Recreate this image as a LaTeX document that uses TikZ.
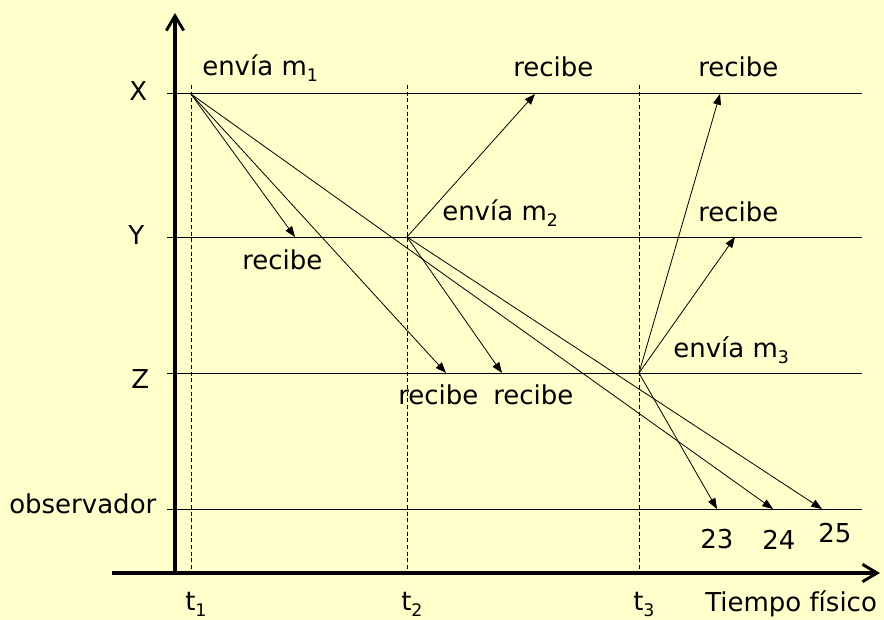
\documentclass[tikz,border=0pt]{standalone}
\usepackage{fontspec}
\setmainfont{DejaVu Sans}
\usetikzlibrary{arrows.meta}
\definecolor{fondo}{HTML}{FFFFCC}
\newcommand{\idx}[1]{\raisebox{-4.5pt}{\fontsize{13}{13}\selectfont #1}}

\begin{document}
\begin{tikzpicture}[x=0.75pt,y=-0.75pt,
  every node/.style={font=\fontsize{19.5}{23}\selectfont,inner sep=0pt,anchor=base west},
  eje/.style={line width=2.4pt,-{Straight Barb[length=11pt,width=13pt,line width=2.2pt]}},
  proceso/.style={line width=0.75pt},
  instante/.style={line width=0.7pt,dash pattern=on 3pt off 2pt},
  msg/.style={line width=0.6pt,-{Triangle[length=8pt,width=6pt]}}]
  % background and page size
  \fill[fondo] (0,0) rectangle (884,620);
  \useasboundingbox (0,0) rectangle (884,620);
  % process lines and their names
  \foreach \y in {94,237,373,509}
    \draw[proceso] (167,\y) -- (862,\y);
  \node (pX) at (129,101) {X};
  \node (pY) at (128,244) {Y};
  \node (pZ) at (131,388) {Z};
  \node (pO) at (9,513) {observador};
  % instants t1, t2, t3
  \foreach \x/\i in {191/1,407/2,639/3} {
    \draw[instante] (\x,85) -- (\x,573);
    \node (t\i) at (\x-6,610) {t\idx{\i}};
  }
  % axes
  \draw[eje] (175,575) -- (175,13);
  \draw[eje] (112,573) -- (880,573);
  \node (tiempo) at (705,611) {Tiempo físico};
  % send events
  \coordinate (sX) at (191,94);
  \coordinate (sY) at (407,237);
  \coordinate (sZ) at (639,373);
  % receive events
  \coordinate (rY1) at (295,237);
  \coordinate (rZ1) at (446,373);
  \coordinate (rO1) at (773,509);
  \coordinate (rX2) at (535,94);
  \coordinate (rZ2) at (502,373);
  \coordinate (rO2) at (822,509);
  \coordinate (rX3) at (720,94);
  \coordinate (rY3) at (735,237);
  \coordinate (rO3) at (717,509);
  % messages
  \draw[msg] (sX) -- (rY1);
  \draw[msg] (sX) -- (rZ1);
  \draw[msg] (sX) -- (rO1);
  \draw[msg] (sY) -- (rX2);
  \draw[msg] (sY) -- (rZ2);
  \draw[msg] (sY) -- (rO2);
  \draw[msg] (sZ) -- (rX3);
  \draw[msg] (sZ) -- (rY3);
  \draw[msg] (sZ) -- (rO3);
  % labels of the events
  \node (eX) at (202,76) {envía m\idx{1}};
  \node (eY) at (442,220) {envía m\idx{2}};
  \node (eZ) at (673,357) {envía m\idx{3}};
  \node (lY1) at (242,269) {recibe};
  \node (lZ1) at (398,404) {recibe};
  \node (lZ2) at (493,404) {recibe};
  \node (lX2) at (513,77) {recibe};
  \node (lX3) at (698,77) {recibe};
  \node (lY3) at (698,222) {recibe};
  \node (o23) at (700,548) {23};
  \node (o24) at (762,549) {24};
  \node (o25) at (818,542) {25};
\end{tikzpicture}
\end{document}
